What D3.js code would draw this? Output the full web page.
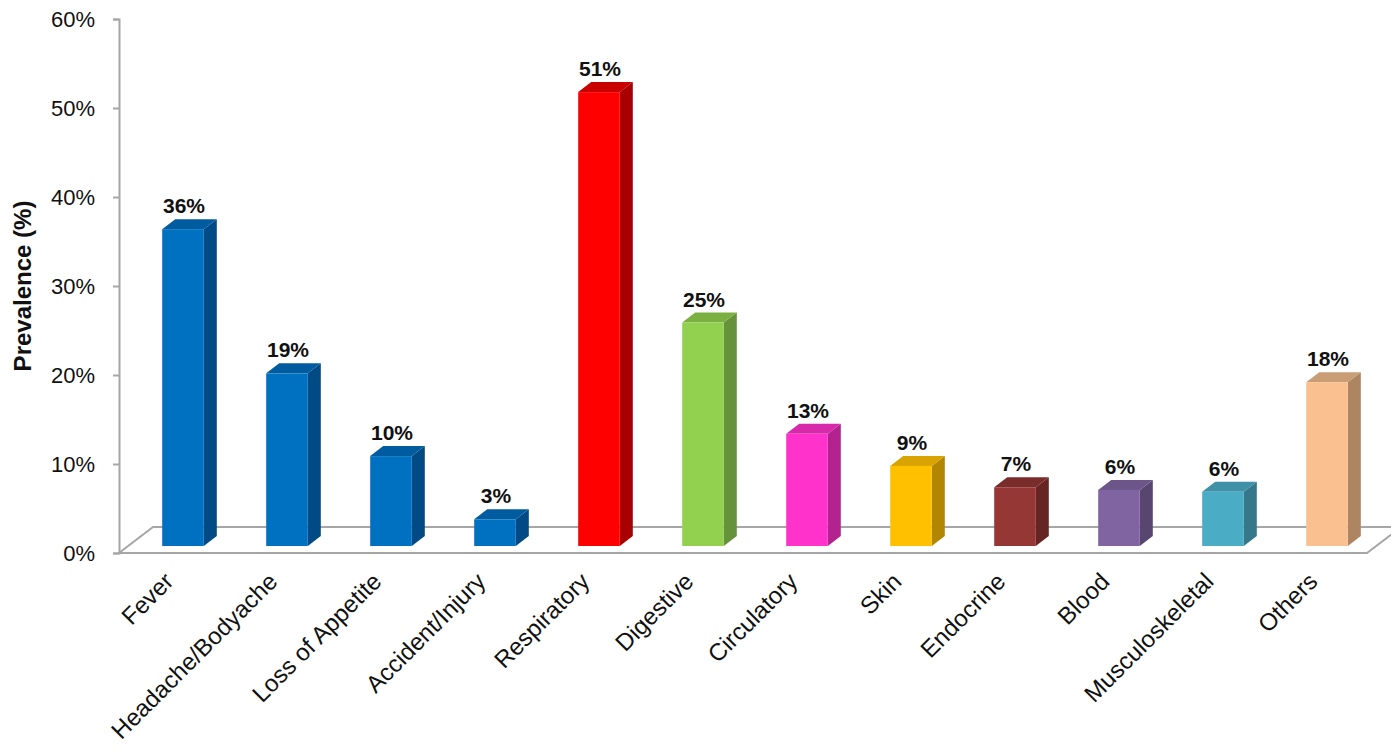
<!DOCTYPE html>
<html><head><meta charset="utf-8">
<script src="https://cdn.jsdelivr.net/npm/d3@7"></script>
<style>
body{margin:0;background:#fff;}
text{font-family:"Liberation Sans",Arial,sans-serif;}
</style></head>
<body><svg id="c" width="1391" height="754"></svg>
<script>
const categories = ["Fever","Headache/Bodyache","Loss of Appetite","Accident/Injury","Respiratory","Digestive","Circulatory","Skin","Endocrine","Blood","Musculoskeletal","Others"];
const values = [35.6, 19.4, 10.1, 3.0, 51.0, 25.1, 12.6, 9.0, 6.6, 6.3, 6.1, 18.4];
const valueLabels = ["36%","19%","10%","3%","51%","25%","13%","9%","7%","6%","6%","18%"];
const frontColors = ["#0070C0","#0070C0","#0070C0","#0070C0","#FF0000","#92D050","#FF33CC","#FFC000","#953735","#8064A2","#4BACC6","#FAC090"];
const sideColors  = ["#004B86","#004B86","#004B86","#004B86","#A80000","#66923A","#B2238F","#B38600","#662523","#594670","#347889","#AD8560"];
const topColors   = ["#005C9E","#005C9E","#005C9E","#005C9E","#C80000","#7AB040","#D62AAB","#D9A300","#7A2C2B","#6C5589","#3F91A8","#C99E76"];
const yTicks = [0,10,20,30,40,50,60];

const svg = d3.select("#c");
const x0 = 119, x1 = 1367, floorY = 553;
const y = d3.scaleLinear().domain([0,60]).range([floorY, 19]);
const x = d3.scaleBand().domain(categories).range([x0, x1]).paddingInner(0.6).paddingOuter(0.3);

// floor
const fdx = 34, fdy = -26;
svg.append("path")
  .attr("d", `M${x0},${floorY} L${x1},${floorY} L${x1+fdx},${floorY+fdy} L${x0+fdx},${floorY+fdy} Z`)
  .attr("fill","#fff").attr("stroke","#A6A6A6").attr("stroke-width",2);

// y axis
const yAxis = d3.axisLeft(y).tickValues(yTicks).tickFormat(d => d + "%").tickSize(6).tickPadding(18);
const ga = svg.append("g").attr("transform",`translate(${x0},0)`).call(yAxis);
ga.select(".domain").attr("stroke","#A6A6A6").attr("stroke-width",2);
ga.selectAll(".tick line").attr("stroke","#A6A6A6").attr("stroke-width",2);
ga.selectAll(".tick text").attr("font-size",22).attr("fill","#111").attr("font-family","Liberation Sans, Arial, sans-serif");

svg.append("text").attr("transform","translate(31,286) rotate(-90)")
  .attr("text-anchor","middle").attr("font-size",24).attr("font-weight","bold").attr("fill","#111")
  .text("Prevalence (%)");

// bars
const bdx = 13, bdy = -10, lift = 7, shift = 12;
const bars = svg.append("g");
categories.forEach((c,i) => {
  const bx = x(c) + shift, bw = x.bandwidth();
  const yt = y(values[i]) - lift, yb = y(0) - lift;
  bars.append("path").attr("d",`M${bx+bw},${yt} L${bx+bw+bdx},${yt+bdy} L${bx+bw+bdx},${yb+bdy} L${bx+bw},${yb} Z`).attr("fill",sideColors[i]);
  bars.append("path").attr("d",`M${bx},${yt} L${bx+bdx},${yt+bdy} L${bx+bw+bdx},${yt+bdy} L${bx+bw},${yt} Z`).attr("fill",topColors[i]);
  bars.append("rect").attr("x",bx).attr("y",yt).attr("width",bw).attr("height",yb-yt).attr("fill",frontColors[i]);
  bars.append("text").attr("x",bx+bw/2+1).attr("y",yt+bdy-6).attr("text-anchor","middle")
    .attr("font-size",21).attr("font-weight","bold").attr("fill","#111").text(valueLabels[i]);
});

// x labels
const xl = svg.append("g");
categories.forEach((c,i) => {
  const cx = x(c) + shift + x.bandwidth()/2;
  xl.append("text").attr("transform",`translate(${cx-14},${floorY+24}) rotate(-45)`)
    .attr("text-anchor","end").attr("font-size",24).attr("fill","#111").attr("dy","0.35em").text(c);
});
</script></body></html>
